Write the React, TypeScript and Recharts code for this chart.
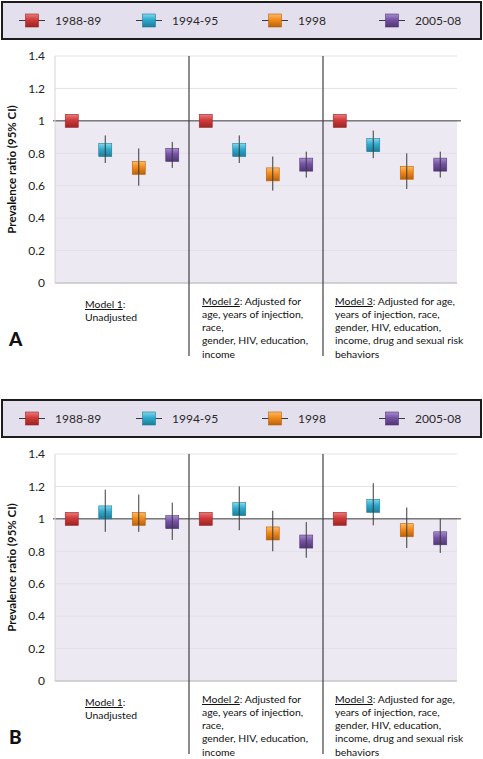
import React from 'react';
import {
  ComposedChart,
  Scatter,
  ErrorBar,
  XAxis,
  YAxis,
  CartesianGrid,
  ReferenceLine,
  ReferenceArea,
} from 'recharts';

const periods = ['1988-89', '1994-95', '1998', '2005-08'];
const models = ['Model 1', 'Model 2', 'Model 3'];
const yTicks = [0, 0.2, 0.4, 0.6, 0.8, 1, 1.2, 1.4];

// one value per model x period, in model order
const ratioA = [1.0, 0.82, 0.71, 0.79, 1.0, 0.82, 0.67, 0.73, 1.0, 0.85, 0.68, 0.73];
const lowA = [null, 0.74, 0.6, 0.71, null, 0.74, 0.57, 0.65, null, 0.77, 0.58, 0.65];
const highA = [null, 0.91, 0.83, 0.87, null, 0.91, 0.78, 0.81, null, 0.94, 0.8, 0.81];

const ratioB = [1.0, 1.04, 1.0, 0.98, 1.0, 1.06, 0.91, 0.86, 1.0, 1.08, 0.93, 0.88];
const lowB = [null, 0.92, 0.92, 0.87, null, 0.93, 0.8, 0.76, null, 0.96, 0.82, 0.79];
const highB = [null, 1.18, 1.15, 1.1, null, 1.2, 1.05, 0.98, null, 1.22, 1.07, 1.0];

const noteFirst = [':', ': Adjusted for', ': Adjusted for age,'];
const noteRest = [
  ['Unadjusted'],
  ['age, years of injection,', 'race,', 'gender, HIV, education,', 'income'],
  ['years of injection, race,', 'gender, HIV, education,', 'income, drug and sexual risk', 'behaviors'],
];

const shades = [
  { top: '#ec7b7b', base: '#cf3a3a', edge: '#9c2424' },
  { top: '#7fd8ee', base: '#2fa8cc', edge: '#1d7d99' },
  { top: '#ffbb63', base: '#f18a1c', edge: '#b8620c' },
  { top: '#a98bd0', base: '#7453a3', edge: '#523777' },
];

const FONT = 'Lato, "Liberation Sans", sans-serif';
const INK = '#111';

const buildRows = (ratio: number[], low: (number | null)[], high: (number | null)[]) =>
  ratio.map((r, i) => ({
    slot: i + 0.5,
    period: i % periods.length,
    ratio: r,
    ci: low[i] == null ? null : [r - (low[i] as number), (high[i] as number) - r],
  }));

const Gradients = ({ prefix }: { prefix: string }) => (
  <defs>
    {shades.map((s, i) => (
      <linearGradient key={i} id={`${prefix}-g${i}`} x1="0" y1="0" x2="0" y2="1">
        <stop offset="0%" stopColor={s.top} />
        <stop offset="45%" stopColor={s.base} />
        <stop offset="100%" stopColor={s.edge} />
      </linearGradient>
    ))}
  </defs>
);

const Square = (props: any) => {
  const { cx, cy, payload, prefix } = props;
  const s = shades[payload.period];
  return (
    <g>
      <rect
        x={cx - 6.5}
        y={cy - 6.5}
        width={13}
        height={13}
        fill={`url(#${prefix}-g${payload.period})`}
        stroke={s.edge}
        strokeWidth={0.6}
      />
      {payload.ci && <line x1={cx} x2={cx} y1={cy - 6.5} y2={cy + 6.5} stroke="#3a3a3a" strokeWidth={1} />}
    </g>
  );
};

const LegendIcon = ({ idx, prefix }: { idx: number; prefix: string }) => (
  <svg width={26} height={15} style={{ display: 'block' }}>
    <Gradients prefix={prefix} />
    <line x1={0} x2={26} y1={7.5} y2={7.5} stroke="#3a3a3a" strokeWidth={1} />
    <rect x={6.5} y={1} width={13} height={13} fill={`url(#${prefix}-g${idx})`} stroke={shades[idx].edge} strokeWidth={0.6} />
  </svg>
);

const legendWidths = [117, 126, 117, 90];

const Panel = ({ tag, top, ratio, low, high }: any) => {
  const rows = buildRows(ratio, low, high);
  const slots = models.length * periods.length;
  const prefix = `p${tag}`;
  return (
    <div style={{ position: 'absolute', top, left: 0, width: 483, height: 360 }}>
      <div style={{ position: 'absolute', top: 0, left: 0 }}>
        <ComposedChart width={483} height={360} data={rows} margin={{ top: 56, right: 26, bottom: 77, left: 0 }}>
          <Gradients prefix={prefix} />
          <CartesianGrid vertical={false} stroke="#e3e3e3" />
          <ReferenceArea y1={0} y2={1} fill="#e2ddeb" fillOpacity={0.65} stroke="none" />
          <XAxis type="number" dataKey="slot" domain={[0, slots]} hide />
          <YAxis
            type="number"
            domain={[0, 1.4]}
            ticks={yTicks}
            width={55}
            tickLine={false}
            tickSize={6}
            tickMargin={4}
            axisLine={{ stroke: '#d4d4d4' }}
            tick={{ fill: '#222', fontSize: 12, fontFamily: FONT }}
            label={{
              value: 'Prevalence ratio (95% CI)',
              angle: -90,
              position: 'insideLeft',
              offset: 12,
              style: { textAnchor: 'middle', fill: INK, fontSize: 11.5, fontWeight: 700, fontFamily: FONT },
            }}
          />
          <ReferenceLine y={0} stroke="#b8b8b8" />
          <ReferenceLine
            segment={[{ x: -0.06, y: 1 }, { x: slots + 0.12, y: 1 }]}
            stroke="#404040"
            ifOverflow="visible"
          />
          {models.slice(1).map((m, i) => (
            <ReferenceLine
              key={m}
              segment={[{ x: (i + 1) * periods.length, y: 1.4 }, { x: (i + 1) * periods.length, y: -0.45 }]}
              stroke="#404040"
              strokeWidth={1.2}
              ifOverflow="visible"
            />
          ))}
          <Scatter dataKey="ratio" isAnimationActive={false} shape={(p: any) => <Square {...p} prefix={prefix} />}>
            <ErrorBar dataKey="ci" direction="y" width={0} stroke="#3a3a3a" strokeWidth={1} />
          </Scatter>
        </ComposedChart>
      </div>

      <div
        style={{
          position: 'absolute',
          top: 1,
          left: 1,
          width: 481,
          height: 39,
          boxSizing: 'border-box',
          border: '2px solid #1c1c1c',
          background: '#e4dfec',
          display: 'flex',
          alignItems: 'center',
          paddingLeft: 16,
          fontFamily: FONT,
          fontSize: 12,
          color: '#2a2a2a',
        }}
      >
        {periods.map((p, i) => (
          <div key={p} style={{ width: legendWidths[i], display: 'flex', alignItems: 'center' }}>
            <LegendIcon idx={i} prefix={`${prefix}l${i}`} />
            <span style={{ marginLeft: 10 }}>{p}</span>
          </div>
        ))}
      </div>

      {models.map((m, i) => (
        <div
          key={m}
          style={{
            position: 'absolute',
            left: [85, 202, 335][i],
            top: i === 0 ? 298 : 294.5,
            fontFamily: FONT,
            fontSize: 10.4,
            lineHeight: '13.3px',
            color: INK,
            whiteSpace: 'nowrap',
          }}
        >
          <div>
            <span style={{ textDecoration: 'underline' }}>{m}</span>
            {noteFirst[i]}
          </div>
          {noteRest[i].map((line) => (
            <div key={line}>{line}</div>
          ))}
        </div>
      ))}

      <div
        style={{
          position: 'absolute',
          left: 9,
          top: 329,
          fontFamily: FONT,
          fontWeight: 900,
          fontSize: 19,
          lineHeight: '20px',
          color: INK,
        }}
      >
        {tag}
      </div>
    </div>
  );
};

export default function App() {
  return (
    <div style={{ position: 'absolute', top: 0, left: 0, width: 483, height: 759, background: '#fff', overflow: 'hidden' }}>
      <Panel tag="A" top={0} ratio={ratioA} low={lowA} high={highA} />
      <Panel tag="B" top={398} ratio={ratioB} low={lowB} high={highB} />
    </div>
  );
}
